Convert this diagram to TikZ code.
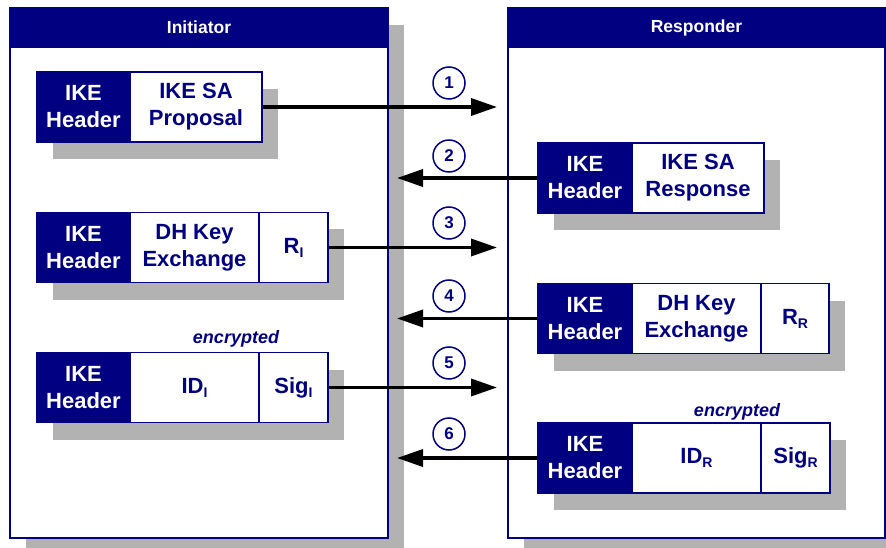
\documentclass[tikz,border=0pt]{standalone}
\usepackage{fontspec}
\setmainfont{Liberation Sans}
\usetikzlibrary{arrows.meta,shadows}
\definecolor{ikenavy}{RGB}{0,0,128}
\definecolor{shadowgray}{RGB}{178,178,178}
\newcommand{\lowsub}[1]{\raisebox{-4pt}{\fontsize{14}{14}\selectfont #1}}

\tikzstyle{party}=[rectangle,draw=ikenavy,fill=white,line width=1.5pt,inner sep=0pt,drop shadow={shadow xshift=16pt,shadow yshift=-17pt,opacity=1,fill=shadowgray}]
\tikzstyle{partytitle}=[rectangle,draw=ikenavy,fill=ikenavy,text=white,line width=1.5pt,inner sep=0pt,font=\bfseries\fontsize{17.5}{20}\selectfont]
\tikzstyle{hdr}=[rectangle,draw=ikenavy,fill=ikenavy,text=white,line width=1.5pt,inner sep=0pt,minimum height=70pt,align=center,font=\bfseries\fontsize{22}{27}\selectfont,drop shadow={shadow xshift=16pt,shadow yshift=-17pt,opacity=1,fill=shadowgray}]
\tikzstyle{field}=[hdr,fill=white,text=ikenavy]
\tikzstyle{num}=[circle,draw=ikenavy,line width=1.5pt,minimum size=32pt,inner sep=0pt,text=ikenavy,font=\bfseries\fontsize{17}{17}\selectfont]
\tikzstyle{note}=[text=ikenavy,font=\bfseries\itshape\fontsize{18}{20}\selectfont]
\tikzstyle{msg}=[line width=3.5pt,-{Triangle[length=26pt,width=17pt]}]

\begin{document}
\begin{tikzpicture}[x=1pt,y=-1pt]
	\path[use as bounding box,clip] (0,0) rectangle (886,548);
	% the two parties
	\node[party,minimum width=378pt,minimum height=530pt] (ini) at (199,273) {};
	\node[partytitle,minimum width=378pt,minimum height=39pt] (init) at (199,27.5) {Initiator};
	\node[party,minimum width=377pt,minimum height=530pt] (res) at (696.5,273) {};
	\node[partytitle,minimum width=377pt,minimum height=39pt] (rest) at (696.5,27.5) {Responder};

	% initiator messages
	\node[hdr,minimum width=93pt] (m1h) at (83.5,107) {IKE\\Header};
	\node[field,minimum width=132pt] (m1f) at (196,107) {IKE SA\\Proposal};
	\node[hdr,minimum width=93pt] (m3h) at (83.5,247.5) {IKE\\Header};
	\node[field,minimum width=129pt] (m3f) at (194.5,247.5) {DH Key\\Exchange};
	\node[field,minimum width=69pt] (m3s) at (293.5,247.5) {R\lowsub{I}};
	\node[note] (enc5) at (236,339) {encrypted};
	\node[hdr,minimum width=93pt] (m5h) at (83.5,387.5) {IKE\\Header};
	\node[field,minimum width=129pt] (m5f) at (194.5,387.5) {ID\lowsub{I}};
	\node[field,minimum width=69pt] (m5s) at (293.5,387.5) {Sig\lowsub{I}};

	% responder messages
	\node[hdr,minimum width=94pt] (m2h) at (585,178) {IKE\\Header};
	\node[field,minimum width=132pt] (m2f) at (698,178) {IKE SA\\Response};
	\node[hdr,minimum width=94pt] (m4h) at (585,318.5) {IKE\\Header};
	\node[field,minimum width=129pt] (m4f) at (696.5,318.5) {DH Key\\Exchange};
	\node[field,minimum width=68pt] (m4s) at (795,318.5) {R\lowsub{R}};
	\node[note] (enc6) at (737,412) {encrypted};
	\node[hdr,minimum width=94pt] (m6h) at (585,458) {IKE\\Header};
	\node[field,minimum width=129pt] (m6f) at (696.5,458) {ID\lowsub{R}};
	\node[field,minimum width=69pt] (m6s) at (795.5,458) {Sig\lowsub{R}};

	% step numbers
	\node[num] (n1) at (449,83) {1};
	\node[num] (n2) at (449,156) {2};
	\node[num] (n3) at (449,223) {3};
	\node[num] (n4) at (449,296) {4};
	\node[num] (n5) at (449,363) {5};
	\node[num] (n6) at (449,434) {6};

	% arrow ends
	\coordinate (t1) at (497,107);
	\coordinate (t2) at (397,178);
	\coordinate (t3) at (497,247.5);
	\coordinate (t4) at (397,318.5);
	\coordinate (t5) at (497,387.5);
	\coordinate (t6) at (397,458);
	\draw[msg] (m1f.east) -- (t1);
	\draw[msg] (m2h.west) -- (t2);
	\draw[msg] (m3s.east) -- (t3);
	\draw[msg] (m4h.west) -- (t4);
	\draw[msg] (m5s.east) -- (t5);
	\draw[msg] (m6h.west) -- (t6);
\end{tikzpicture}
\end{document}
